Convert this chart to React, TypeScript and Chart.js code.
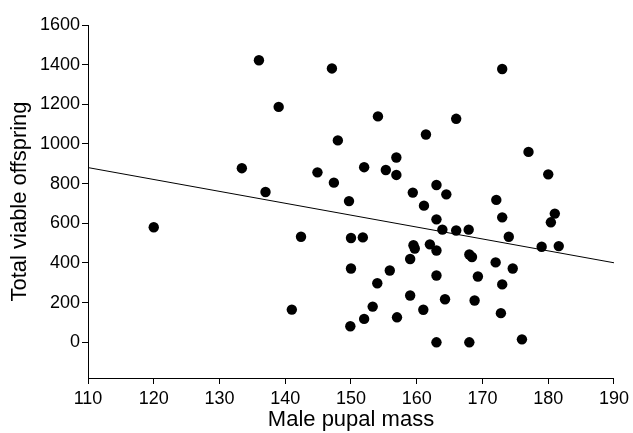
import React, { useEffect, useRef } from "react";
import { Chart, registerables } from "chart.js";

Chart.register(...registerables);

const malePupalMass = [
  120, 133.4, 136.0, 137.0, 139.0, 141.0, 142.4, 144.9, 147.1, 147.4,
  148.0, 149.7, 149.9, 150.0, 150.0, 151.8, 152.0, 152.0, 153.3, 154.0,
  154.1, 155.3, 155.9, 156.9, 156.9, 157.0, 159.0, 159.0, 159.4, 159.5,
  159.7, 161.0, 161.1, 161.4, 162.0, 163.0, 163.0, 163.0, 163.0, 163.0,
  163.9, 164.3, 164.5, 166.0, 166.0, 167.9, 168.0, 168.0, 168.4, 168.8,
  169.3, 172.0, 172.1, 172.8, 173.0, 173.0, 173.0, 174.0, 174.6, 176.0,
  177.0, 179.0, 180.0, 180.4, 181.0, 181.6,
];

const totalViableOffspring = [
  580, 878, 1422, 758, 1187, 165, 532, 857, 1381, 805,
  1018, 712, 81, 526, 372, 529, 883, 118, 180, 298,
  1139, 869, 362, 932, 844, 126, 420, 236, 755, 490,
  473, 164, 689, 1048, 494, 793, 620, 463, 337, 0,
  568, 217, 746, 1127, 564, 568, 443, 0, 430, 211,
  332, 403, 718, 147, 1378, 630, 292, 532, 372, 15,
  960, 482, 847, 605, 649, 485,
];

const fitLineX = [110, 190];
const fitLineY = [881, 401];

const xTickValues = [110, 120, 130, 140, 150, 160, 170, 180, 190];
const yTickValues = [0, 200, 400, 600, 800, 1000, 1200, 1400, 1600];
const yAxisMin = -180;
const yAxisMax = 1600;

export default function App() {
  const canvasRef = useRef<HTMLCanvasElement | null>(null);

  useEffect(() => {
    const canvas = canvasRef.current;
    if (!canvas) return;
    const font = "'Liberation Sans', Arial, sans-serif";
    const chart = new Chart(canvas, {
      type: "scatter",
      data: {
        datasets: [
          {
            label: "points",
            data: malePupalMass.map((x, i) => ({ x, y: totalViableOffspring[i] })),
            backgroundColor: "#000",
            borderColor: "#000",
            pointRadius: 5.2,
            pointHoverRadius: 5.2,
            borderWidth: 0,
          },
          {
            type: "line",
            label: "fit",
            data: fitLineX.map((x, i) => ({ x, y: fitLineY[i] })),
            borderColor: "#000",
            borderWidth: 1,
            pointRadius: 0,
            showLine: true,
            fill: false,
          } as any,
        ],
      },
      options: {
        animation: false,
        responsive: true,
        maintainAspectRatio: false,
        layout: { padding: { top: 25, right: 18, left: 0, bottom: 0 } },
        plugins: {
          legend: { display: false },
          tooltip: { enabled: false },
        },
        scales: {
          x: {
            type: "linear",
            min: xTickValues[0],
            max: xTickValues[xTickValues.length - 1],
            afterBuildTicks: (scale: any) => {
              scale.ticks = xTickValues.map((v) => ({ value: v }));
            },
            ticks: {
              color: "#000",
              font: { family: font, size: 18 },
              padding: 4,
              callback: (v: any) => String(v),
            },
            grid: {
              drawOnChartArea: false,
              drawTicks: true,
              tickLength: 6,
              color: "#000",
            },
            border: { display: true, color: "#000", width: 1 },
            title: {
              display: true,
              text: "Male pupal mass",
              color: "#000",
              font: { family: font, size: 22 },
              padding: { top: 0, bottom: 0 },
            },
            afterFit: (scale: any) => {
              scale.height = 55;
            },
          },
          y: {
            type: "linear",
            min: yAxisMin,
            max: yAxisMax,
            afterBuildTicks: (scale: any) => {
              scale.ticks = yTickValues.map((v) => ({ value: v }));
            },
            ticks: {
              color: "#000",
              font: { family: font, size: 18 },
              padding: 2,
              callback: (v: any) => String(v),
            },
            grid: {
              drawOnChartArea: false,
              drawTicks: true,
              tickLength: 6,
              color: "#000",
            },
            border: { display: true, color: "#000", width: 1 },
            title: {
              display: true,
              text: "Total viable offspring",
              color: "#000",
              font: { family: font, size: 22 },
              padding: { top: 7, bottom: 7 },
            },
            afterFit: (scale: any) => {
              scale.width = 88;
            },
          },
        },
      },
    });
    return () => chart.destroy();
  }, []);

  return (
    <div style={{ position: "absolute", left: 0, top: 0, width: 633, height: 433, background: "#fff" }}>
      <canvas ref={canvasRef} />
    </div>
  );
}
